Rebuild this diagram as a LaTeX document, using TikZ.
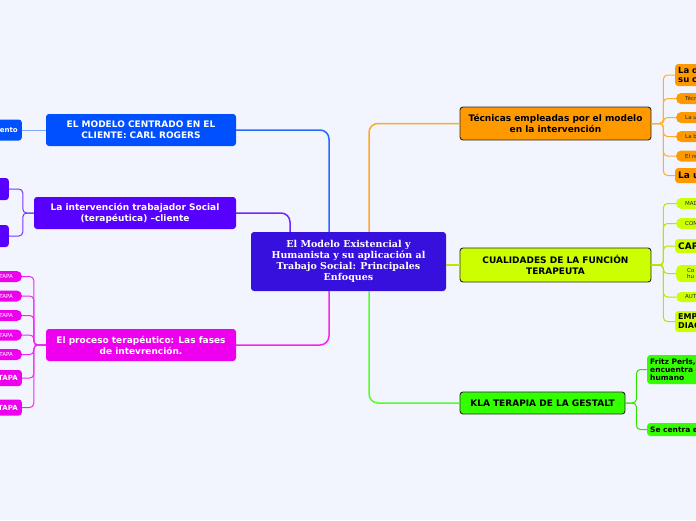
\documentclass[tikz,border=0pt]{standalone}
\usepackage{fontspec}
\setmainfont{DejaVu Sans}
\newfontfamily\serifb{DejaVu Serif}
\usetikzlibrary{calc}
\definecolor{bg}{RGB}{243,245,254}
\definecolor{ccenter}{RGB}{56,16,222}
\definecolor{cblue}{RGB}{0,80,255}
\definecolor{cpurple}{RGB}{88,0,255}
\definecolor{cmag}{RGB}{238,0,238}
\definecolor{corange}{RGB}{255,153,0}
\definecolor{clime}{RGB}{204,255,0}
\definecolor{cgreen}{RGB}{51,255,0}
\definecolor{cdark}{RGB}{40,40,40}
\tikzset{
  box/.style={rectangle, rounded corners=3, inner sep=0, align=center},
  leftmain/.style={box, fill=#1, text=white, font=\bfseries\fontsize{9}{11}\selectfont},
  rightmain/.style={box, fill=#1, draw=cdark, line width=0.9, text=black, font=\bfseries\fontsize{9}{11}\selectfont},
  conn/.style={draw=#1, line width=1.5, rounded corners=9},
  branch/.style={draw=#1, line width=1, rounded corners=4},
  pill/.style={rectangle, rounded corners=5, fill=#1, inner xsep=9, inner ysep=0, anchor=west, text width=50, text=cdark, align=left, font=\fontsize{5.5}{6.5}\selectfont},
  bchild/.style={rectangle, rounded corners=3, fill=#1, inner xsep=3, inner ysep=0, anchor=west, text width=60, text=black, align=left, font=\bfseries\fontsize{8.5}{9.5}\selectfont},
  lpill/.style={rectangle, rounded corners=5, fill=cmag, inner xsep=9, inner ysep=0, anchor=east, text width=40, text=white, align=right, font=\fontsize{5.5}{6.5}\selectfont},
  lchild/.style={rectangle, rounded corners=3, fill=#1, inner xsep=4, inner ysep=0, anchor=east, text width=40, text=white, align=right, font=\bfseries\fontsize{7}{8}\selectfont},
}
\begin{document}
\begin{tikzpicture}[x=1pt,y=-1pt]
\useasboundingbox (0,0) rectangle (696,520);
\clip (0,0) rectangle (696,520);
\fill[bg] (0,0) rectangle (696,520);

% central node
\node[box, fill=ccenter, text=white, minimum width=195, minimum height=59,
  font=\serifb\bfseries\fontsize{9.5}{11}\selectfont] (c) at (348.5,261.5)
  {El Modelo Existencial y\\Humanista y su aplicación al\\Trabajo Social: Principales\\Enfoques};

% left main nodes
\node[leftmain=cblue, minimum width=190, minimum height=32] (rog) at (141,130)
  {EL MODELO CENTRADO EN EL\\CLIENTE: CARL ROGERS};
\node[leftmain=cpurple, minimum width=202, minimum height=32] (int) at (135,213)
  {La intervención trabajador Social\\(terapéutica) –cliente};
\node[leftmain=cmag, minimum width=190, minimum height=32] (pro) at (141,345)
  {El proceso terapéutico: Las fases\\de intevrención.};

% right main nodes
\node[rightmain=corange, minimum width=191, minimum height=33] (tec) at (555.5,123.5)
  {Técnicas empleadas por el modelo\\en la intervención};
\node[rightmain=clime, minimum width=191, minimum height=34] (cua) at (555.5,265)
  {CUALIDADES DE LA FUNCIÓN\\TERAPEUTA};
\node[rightmain=cgreen, minimum width=165, minimum height=22] (ges) at (542.5,403)
  {KLA TERAPIA DE LA GESTALT};

% connectors from center
\draw[conn=cblue!85] (rog.east) -| ($(c.north)+(-19.5,0)$);
\draw[conn=cpurple!85] (int.east) -| ($(c.north)+(-58.5,0)$);
\draw[conn=cmag!85] (pro.east) -| ($(c.south)+(-19.5,0)$);
\draw[conn=corange!85] (tec.west) -| ($(c.north)+(20.5,0)$);
\draw[conn=cgreen!85] (ges.west) -| ($(c.south)+(20.5,0)$);
\draw[draw=clime!85!black!60!clime, line width=1.2] (c.east |- cua.west) -- (cua.west);

% right children: tecnicas
\node[bchild=corange, minimum height=22] (t1) at (675,75) {La d\\su co};
\node[pill=corange, minimum height=11] (t2) at (676,98.5) {Técn};
\node[pill=corange, minimum height=11] (t3) at (676,117.5) {La u};
\node[pill=corange, minimum height=11] (t4) at (676,136.5) {La b};
\node[pill=corange, minimum height=11] (t5) at (676,156) {El re};
\node[bchild=corange, minimum height=15, font=\bfseries\fontsize{9}{10}\selectfont] (t6) at (675,175.5) {La u};
\foreach \n in {t1,t2,t3,t4,t5,t6}
  \draw[branch=corange!80] (tec.east) -- ++(12,0) |- (\n.west);

% right children: cualidades
\node[pill=clime, minimum height=11] (l1) at (676,203.5) {MAD};
\node[pill=clime, minimum height=11] (l2) at (676,223.5) {COM};
\node[bchild=clime, minimum height=14, font=\bfseries\fontsize{9}{10}\selectfont] (l3) at (675,246) {CAPA};
\node[pill=clime, minimum height=17, inner xsep=11] (l4) at (676,273.5) {Co\\hu};
\node[pill=clime, minimum height=10] (l5) at (676,297) {AUT};
\node[bchild=clime, minimum height=21, font=\bfseries\fontsize{8}{9}\selectfont] (l6) at (675,321.5) {EMP\\DIAG};
\foreach \n in {l1,l2,l3,l4,l5,l6}
  \draw[branch=clime!90!black] (cua.east) -- ++(12,0) |- (\n.west);

% right children: gestalt
\node[bchild=cgreen, minimum height=29, font=\bfseries\fontsize{7.5}{8.3}\selectfont] (g1) at (647,369.5) {Fritz Perls,e\\encuentra c\\humano};
\node[bchild=cgreen, minimum height=13, font=\bfseries\fontsize{7.5}{8.3}\selectfont] (g2) at (647,429.5) {Se centra e};
\foreach \n in {g1,g2}
  \draw[branch=cgreen!90!black] (ges.east) -- ++(11,0) |- (\n.west);

% left children: rogers
\node[lchild=cblue, minimum height=21] (r1) at (22,130) {ento};
\draw[branch=cblue!50] (rog.west) -- (r1.east);

% left children: intervencion
\node[lchild=cpurple, minimum height=22] (i1) at (9,189) {};
\node[lchild=cpurple, minimum height=22] (i2) at (9,236) {};
\foreach \n in {i1,i2}
  \draw[branch=cpurple!80] (int.west) -- ++(-11,0) |- (\n.east);

% left children: proceso
\node[lpill, minimum height=11] (p1) at (22,276.5) {TAPA};
\node[lpill, minimum height=11] (p2) at (22,296) {TAPA};
\node[lpill, minimum height=11] (p3) at (22,315.5) {TAPA};
\node[lpill, minimum height=11] (p4) at (22,335) {TAPA};
\node[lpill, minimum height=11] (p5) at (22,354.5) {TAPA};
\node[lchild=cmag, minimum height=16] (p6) at (22,378) {TAPA};
\node[lchild=cmag, minimum height=16] (p7) at (22,407.5) {TAPA};
\foreach \n in {p1,p2,p3,p4,p5,p6,p7}
  \draw[branch=cmag!85] (pro.west) -- ++(-12,0) |- (\n.east);
\end{tikzpicture}
\end{document}
